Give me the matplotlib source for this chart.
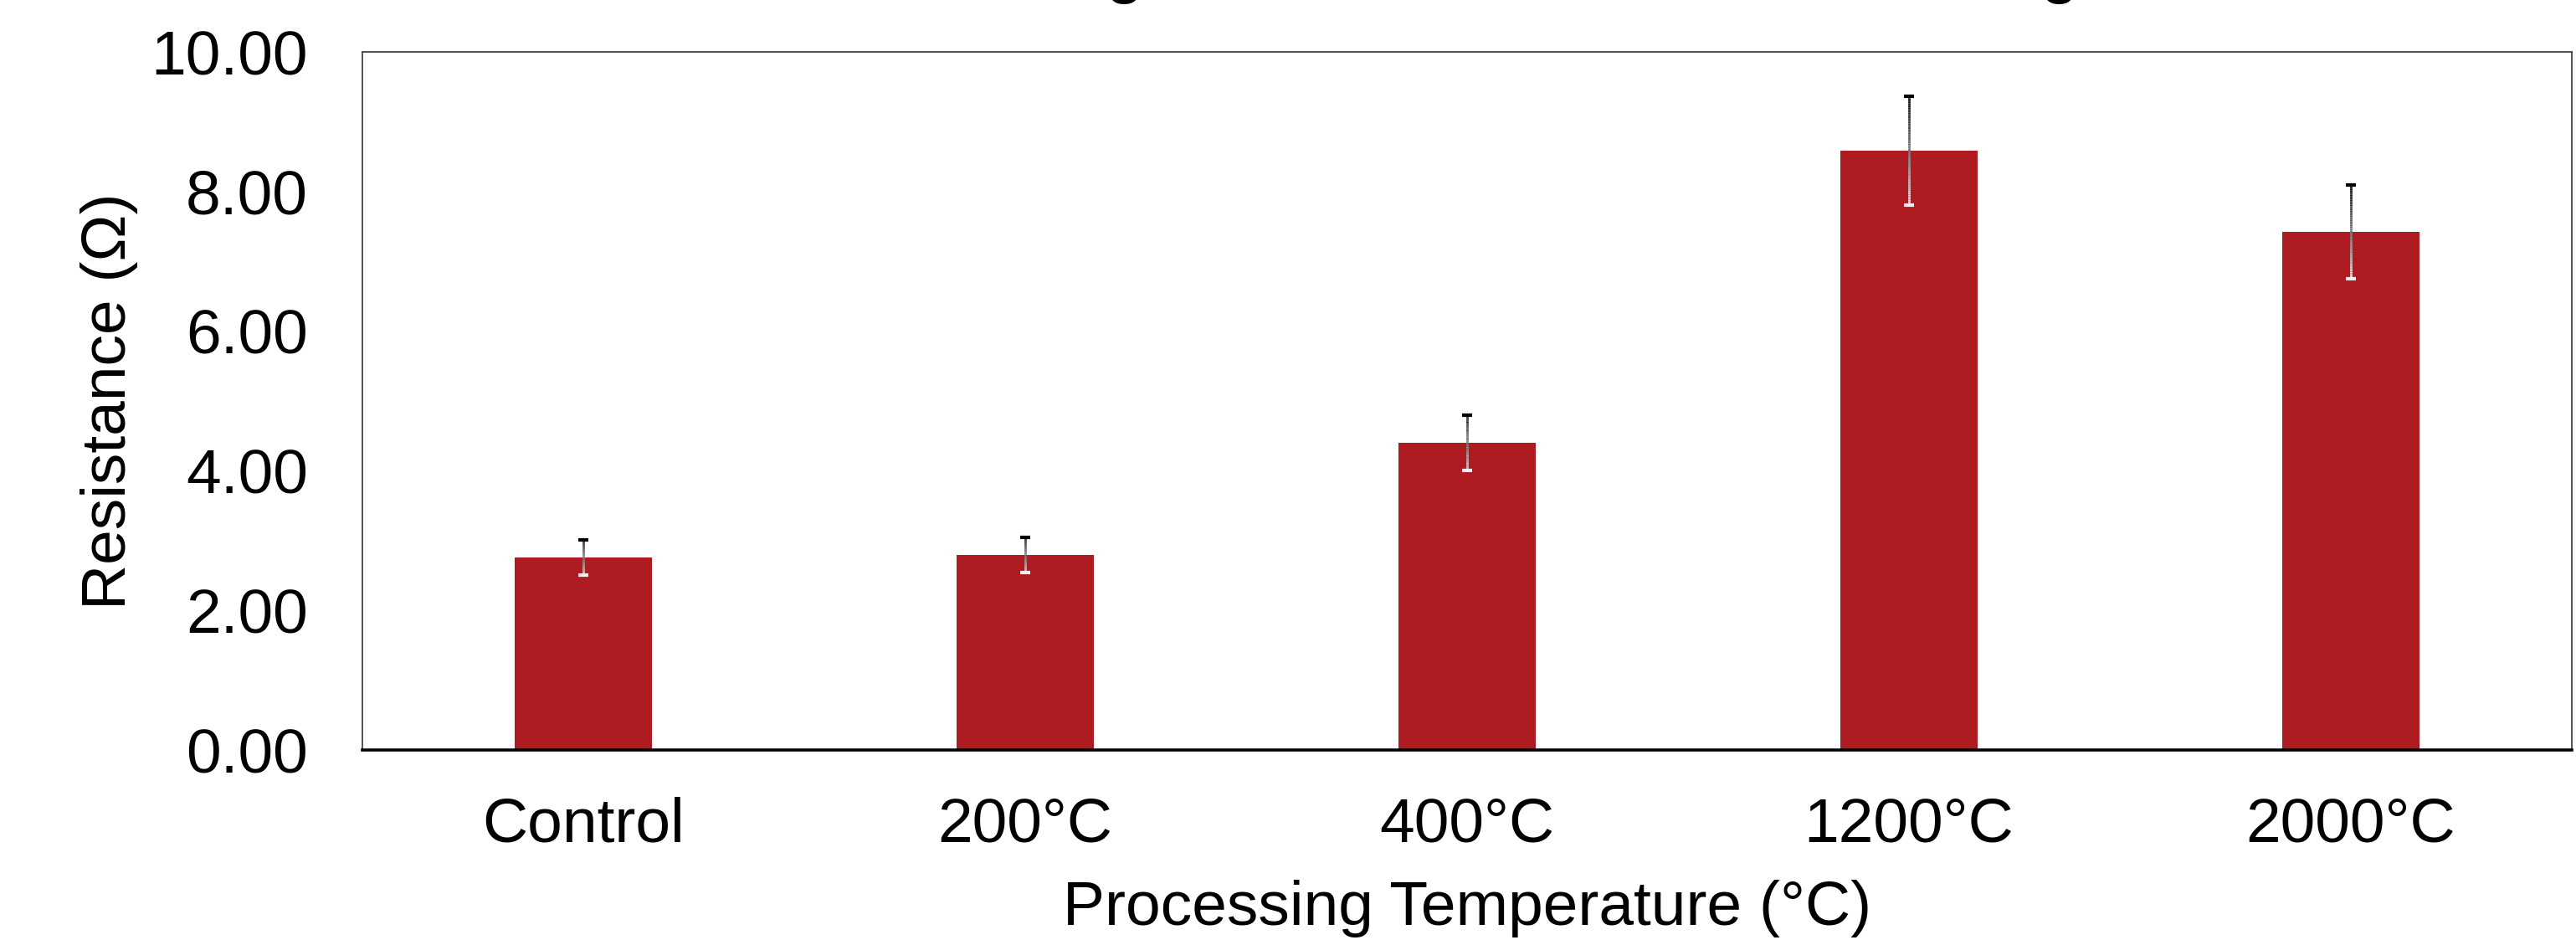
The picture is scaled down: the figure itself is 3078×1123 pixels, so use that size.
import numpy as np
import matplotlib
matplotlib.use("Agg")
import matplotlib.pyplot as plt
from matplotlib.collections import LineCollection

plt.rcParams['font.family'] = ['Liberation Sans', 'DejaVu Sans']

# data
categories = ['Control', '200°C', '400°C', '1200°C', '2000°C']
resistance = [2.76, 2.79, 4.40, 8.59, 7.42]
resistance_err = [0.25, 0.25, 0.40, 0.78, 0.67]
y_ticks = [0, 2, 4, 6, 8, 10]
title_text = 'Resistance Change After Heat Treatment Testing'

bar_color = '#ae1b21'

fig = plt.figure(figsize=(30.78, 11.23), dpi=100)
ax = fig.add_axes([433 / 3078, 1 - 896 / 1123, (3073 - 433) / 3078, (896 - 62) / 1123])

x = np.arange(len(categories))
ax.bar(x, resistance, width=0.31, color=bar_color, zorder=2)

# error bars fade from white at the bottom to black at the top
segs, cols = [], []
n = 60
for xi, m, e in zip(x, resistance, resistance_err):
    ys = np.linspace(m - e, m + e, n + 1)
    for k in range(n):
        segs.append([(xi, ys[k]), (xi, ys[k + 1])])
        g = 1.0 - (k + 0.5) / n
        cols.append((g * 0.95, g * 0.95, g * 0.95))
ax.add_collection(LineCollection(segs, colors=cols, linewidths=2.0, zorder=3))
lows = np.array(resistance) - np.array(resistance_err)
highs = np.array(resistance) + np.array(resistance_err)
ax.plot(x, highs, ls='none', marker='_', ms=9, mew=3, color='black', zorder=4)
ax.plot(x, lows, ls='none', marker='_', ms=9, mew=3, color='#eeeeee', zorder=4)

ax.set_xlim(-0.5, len(categories) - 0.5)
ax.set_ylim(0, 10)
ax.set_yticks(y_ticks)
ax.set_yticklabels([f'{v:.2f}' for v in y_ticks])
ax.set_xticks(x)
ax.set_xticklabels(categories)
ax.tick_params(axis='both', length=0, labelsize=54)
ax.tick_params(axis='y', pad=47)
ax.tick_params(axis='x', pad=40)

for side in ['top', 'left', 'right']:
    ax.spines[side].set_linewidth(1.3)
    ax.spines[side].set_color('#444444')
ax.spines['bottom'].set_linewidth(2.6)
ax.spines['bottom'].set_color('black')

ax.set_xlabel('Processing Temperature (°C)', fontsize=54, labelpad=22)
ax.set_ylabel('Resistance (Ω)', fontsize=54, labelpad=11)

# title sits above the canvas, only its descenders show
fig.text(690 / 3078, 1 + 12 / 1123, title_text, fontsize=59.7,
         ha='left', va='baseline')

fig.savefig('out.png', dpi=100)
